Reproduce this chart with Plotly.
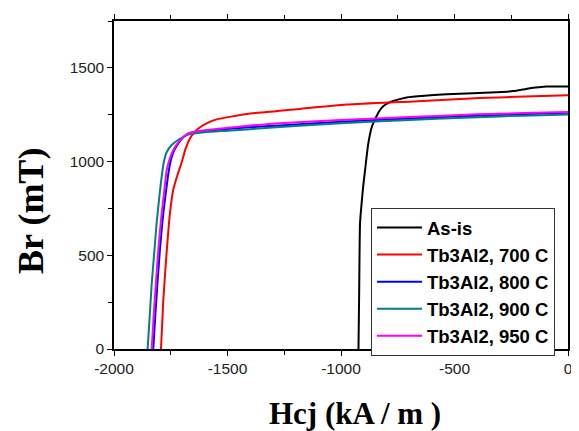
import plotly.graph_objects as go

# Demagnetization curves: H (kA/m) vs Br (mT)
names = ["As-is", "Tb3Al2, 700 C", "Tb3Al2, 800 C", "Tb3Al2, 900 C", "Tb3Al2, 950 C"]
colors = ["#000000", "#ff0000", "#0000ff", "#008080", "#ff00ff"]

h_asis = [-923, -920, -916, -909, -902, -894, -880, -865, -843, -828, -814, -795, -770, -711, -620, -534, -420, -314, -241, -200, -167, -130, -94, -40, 0]
b_asis = [0, 300, 675, 780, 870, 954, 1094, 1182, 1243, 1275, 1295, 1311, 1323, 1342, 1352, 1359, 1364, 1370, 1376, 1384, 1391, 1396, 1400, 1401, 1401]

h_700 = [-1793, -1783, -1768, -1753, -1739, -1720, -1702, -1685, -1665, -1645, -1621, -1590, -1548, -1474, -1400, -1327, -1269, -1181, -975, -682, -388, -150, 0]
b_700 = [0, 257, 518, 730, 850, 930, 995, 1068, 1125, 1158, 1183, 1205, 1225, 1242, 1256, 1264, 1271, 1281, 1304, 1321, 1339, 1348, 1354]

h_800 = [-1827, -1818, -1808, -1797, -1785, -1770, -1760, -1748, -1735, -1715, -1695, -1672, -1640, -1580, -1500, -1400, -1269, -1000, -700, -400, -200, 0]
b_800 = [0, 180, 360, 540, 700, 850, 940, 1015, 1060, 1100, 1130, 1150, 1158, 1166, 1174, 1183, 1193, 1213, 1230, 1245, 1253, 1260]

h_900 = [-1852, -1843, -1834, -1823, -1812, -1800, -1790, -1780, -1768, -1745, -1724, -1700, -1680, -1660, -1600, -1500, -1400, -1269, -1000, -700, -400, -200, 0]
b_900 = [0, 170, 345, 510, 675, 815, 919, 1000, 1050, 1090, 1110, 1128, 1140, 1148, 1157, 1165, 1173, 1185, 1204, 1222, 1237, 1245, 1251]

h_950 = [-1834, -1825, -1815, -1804, -1792, -1778, -1767, -1750, -1735, -1715, -1695, -1672, -1640, -1580, -1500, -1400, -1269, -1000, -700, -400, -200, 0]
b_950 = [0, 180, 360, 540, 700, 850, 960, 1030, 1070, 1105, 1130, 1150, 1160, 1170, 1180, 1192, 1205, 1222, 1238, 1252, 1259, 1265]

series_h = [h_asis, h_700, h_800, h_900, h_950]
series_b = [b_asis, b_700, b_800, b_900, b_950]

x_ticks = [-2000, -1500, -1000, -500, 0]
y_ticks = [0, 500, 1000, 1500]

fig = go.Figure()
for name, color, hx, by in zip(names, colors, series_h, series_b):
    fig.add_trace(go.Scatter(x=hx, y=by, mode="lines", name="<b>" + name + "</b>",
                             line=dict(color=color, width=2, shape="spline", smoothing=0.6)))

axis_common = dict(
    showgrid=False, zeroline=False, showline=True, linecolor="#000000", linewidth=1.5,
    ticks="outside", ticklen=5, tickwidth=1.2, tickcolor="#000000",
    tickfont=dict(family="Arial", size=15.5, color="#222222"),
    minor=dict(ticks="outside", ticklen=4, tickwidth=1.2, tickcolor="#000000", dtick=250, showgrid=False),
)

fig.update_xaxes(range=[-2000, 0], tickvals=x_ticks, ticktext=[str(v) for v in x_ticks],
                 mirror="ticks", **axis_common)
fig.update_yaxes(range=[0, 1750], tickvals=y_ticks, ticktext=[str(v) for v in y_ticks],
                 mirror=True, **axis_common)

# page offset of 8px (body margin) is compensated in the figure size / margins
PW, PH = 454, 335
fig.add_annotation(text="<b>Hcj (kA / m )</b>", xref="paper", yref="paper",
                   x=(355 - 114) / PW, y=-(415 - 349) / PH, xanchor="center", yanchor="middle",
                   showarrow=False, font=dict(family="Times New Roman, Liberation Serif, serif", size=31, color="#000000"))
fig.add_annotation(text="<b>Br (mT)</b>", xref="paper", yref="paper",
                   x=-(114 - 31) / PW, y=(349 - 208) / PH, xanchor="center", yanchor="middle",
                   textangle=-90, showarrow=False,
                   font=dict(family="Times New Roman, Liberation Serif, serif", size=36, color="#000000"))

fig.update_layout(
    width=571, height=423,
    margin=dict(l=106, r=11, t=6, b=82),
    paper_bgcolor="#ffffff", plot_bgcolor="#ffffff",
    showlegend=True,
    legend=dict(x=(371 - 114) / PW, y=(349 - 205) / PH, xanchor="left", yanchor="top",
                bgcolor="#ffffff", bordercolor="#333333", borderwidth=1,
                font=dict(family="Arial", size=18.5, color="#000000"),
                itemwidth=45, tracegroupgap=0),
)

fig.write_html("out.html")
